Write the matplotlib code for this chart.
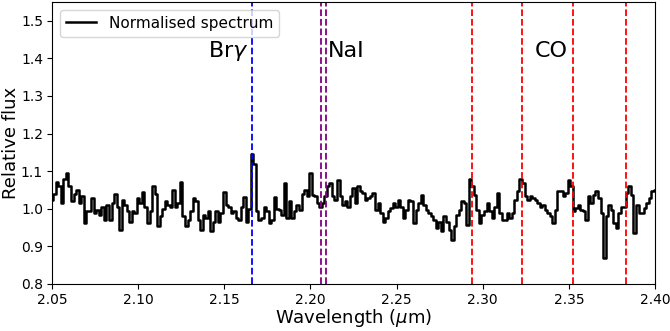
import numpy as np
import matplotlib
matplotlib.use("Agg")
import matplotlib.pyplot as plt

# Normalised flux values (2.05 -> 2.40 micron)
flux = [
    1.024, 1.04, 1.07, 1.06, 1.015, 1.08, 1.095, 1.06, 1.02, 1.04,
    1.05, 1.015, 1.035, 0.962, 0.993, 0.993, 1.028, 0.988, 0.996, 0.984,
    1.006, 0.97, 1.01, 0.97, 1.015, 1.04, 1.006, 0.944, 1.024,
    1.01, 0.993, 0.966, 0.993, 0.988, 1.028, 1.015, 1.045, 1.006, 0.962,
    0.993, 1.06, 1.04, 0.953, 0.98, 1.0, 1.02, 1.01, 1.006, 1.05,
    1.006, 1.015, 1.07, 0.98, 0.953, 0.97, 0.993, 1.028, 1.02, 0.97, 0.944,
    0.984, 0.975, 0.993, 0.94, 0.966, 0.993, 0.966, 0.988, 1.045, 1.01,
    1.006, 0.988, 0.993, 0.975, 0.97, 1.006, 1.032, 0.966, 1.0, 1.147,
    1.12, 0.993, 0.97, 0.975, 1.006, 0.993, 0.962, 0.97, 1.032, 1.0, 0.996,
    0.984, 1.068, 0.975, 1.02, 0.975, 0.993, 1.01, 0.997, 1.04, 1.05,
    1.033, 1.095, 1.037, 1.033, 1.015, 1.006, 1.015, 1.033, 1.06, 1.068,
    1.033, 1.024, 1.077, 1.033, 1.01, 1.02, 1.006, 1.033, 1.055,
    1.015, 1.06, 1.046, 1.042, 1.024, 1.028, 1.033, 1.042, 0.997, 1.015,
    0.988, 0.966, 0.975, 0.993, 1.002, 1.015, 1.006, 1.024, 1.006, 0.975,
    0.997, 1.024, 1.02, 0.962, 0.997, 1.015, 1.037, 1.01, 0.997,
    0.988, 0.98, 0.971, 0.95, 0.966, 0.94, 0.98, 0.966, 0.944, 0.918,
    0.953, 0.984, 0.997, 1.02, 1.015, 0.957, 1.08, 1.06, 1.037, 0.997,
    0.962, 0.984, 0.993, 1.015, 0.993, 0.975, 1.006, 1.042, 0.988, 0.971,
    0.971, 0.988, 0.975, 0.988, 1.024, 1.046, 1.08, 1.068, 1.033, 1.024,
    1.033, 1.029, 1.024, 1.015, 1.006, 1.011, 0.997, 0.988, 0.98, 0.962,
    0.997, 1.046, 1.046, 1.033, 1.042, 1.077, 1.06, 0.993, 1.002, 1.011,
    0.997, 0.993, 0.971, 1.033, 1.015, 1.037, 1.046, 1.029, 0.988, 0.869,
    0.98, 1.011, 0.997, 0.962, 0.95, 0.988, 1.006, 1.006, 1.042, 1.06,
    1.037, 0.935, 1.011, 0.988, 0.988, 1.002, 1.015, 1.029, 1.046, 1.05,
]
wave_start, wave_end = 2.05, 2.40
wavelength = np.linspace(wave_start, wave_end, len(flux))

brg_line = [2.1661]
nai_lines = [2.2062, 2.2090]
co_lines = [2.2935, 2.3227, 2.3525, 2.3830]

labels = ["Br$\\gamma$", "NaI", "CO"]
label_x = [2.164, 2.210, 2.340]
label_y = 1.42

fig = plt.figure(figsize=(6.70, 3.31), dpi=100)
ax = fig.add_axes([0.0776, 0.142, 0.9000, 0.852])

ax.plot(wavelength, flux, drawstyle="steps-mid", color="black", lw=1.8,
        label="Normalised spectrum")

for w in brg_line:
    ax.axvline(w, color="blue", ls="--", lw=1.3)
for w in nai_lines:
    ax.axvline(w, color="purple", ls="--", lw=1.3)
for w in co_lines:
    ax.axvline(w, color="red", ls="--", lw=1.3)

ax.text(label_x[0], label_y, labels[0], fontsize=16, ha="right", va="center")
ax.text(label_x[1], label_y, labels[1], fontsize=16, ha="left", va="center")
ax.text(label_x[2], label_y, labels[2], fontsize=16, ha="center", va="center")

ax.set_xlim(2.05, 2.40)
ax.set_ylim(0.8, 1.55)
ax.set_xticks([2.05, 2.10, 2.15, 2.20, 2.25, 2.30, 2.35, 2.40])
ax.set_yticks([0.8, 0.9, 1.0, 1.1, 1.2, 1.3, 1.4, 1.5])
ax.tick_params(labelsize=10, pad=3)
ax.set_xlabel("Wavelength ($\\mu$m)", fontsize=13, labelpad=0)
ax.set_ylabel("Relative flux", fontsize=13, labelpad=0.5)
ax.legend(loc="upper left", fontsize=11)

fig.savefig("out.png", dpi=100)
